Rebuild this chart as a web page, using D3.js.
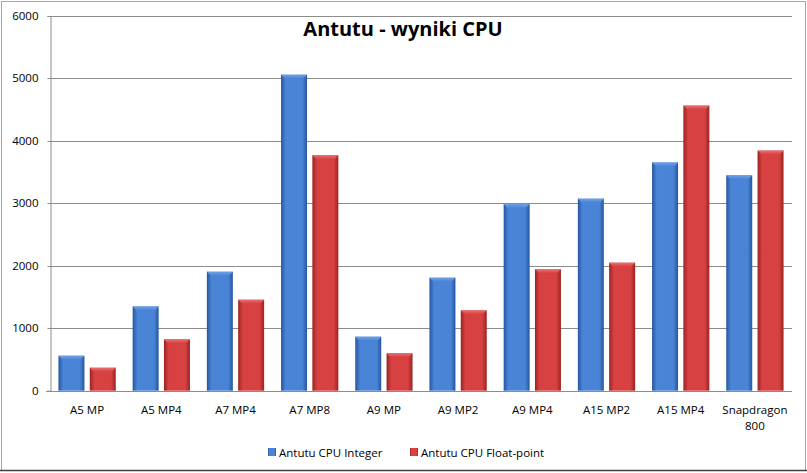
<!DOCTYPE html>
<html>
<head>
	<title>Antutu - wyniki CPU</title>
	<script src="https://d3js.org/d3.v7.min.js"></script>
	<style>
	body { margin: 0; background: #fff; }
	text { font-family: "Open Sans", sans-serif; fill: #000; }
	</style>
</head>
<body>
<script type="text/javascript">

// data
const categories = ["A5 MP", "A5 MP4", "A7 MP4", "A7 MP8", "A9 MP", "A9 MP2", "A9 MP4", "A15 MP2", "A15 MP4", "Snapdragon 800"]
const integerValues = [560, 1350, 1905, 5060, 865, 1810, 2990, 3075, 3655, 3450]
const floatValues = [368, 823, 1457, 3770, 600, 1287, 1944, 2050, 4565, 3845]
const seriesNames = ["Antutu CPU Integer", "Antutu CPU Float-point"]
const yTicks = [0, 1000, 2000, 3000, 4000, 5000, 6000]

const width = 807
const height = 473

const svg = d3.select("body").append("svg")
		.attr("width", width)
		.attr("height", height)

// outer frame
svg.append("rect")
	.attr("x", 1.5).attr("y", 1.5)
	.attr("width", width - 3).attr("height", height - 4)
	.attr("fill", "#fff")
	.attr("stroke", "#a6a6a6")
svg.append("line")
	.attr("x1", 0).attr("x2", width)
	.attr("y1", 470.5).attr("y2", 470.5)
	.attr("stroke", "#404040").attr("stroke-width", 1.5)

// gradients for the rounded bar look
const defs = svg.append("defs")
const palette = [
	{ dark: "#2556a0", mid: "#4a84d6", light: "#6fa2e6" },
	{ dark: "#9c2222", mid: "#d74141", light: "#e87070" }
]
palette.forEach(function(p, i) {
	const g = defs.append("linearGradient").attr("id", "bar" + i)
		.attr("x1", 0).attr("x2", 1).attr("y1", 0).attr("y2", 0)
	g.append("stop").attr("offset", "0%").attr("stop-color", p.dark)
	g.append("stop").attr("offset", "18%").attr("stop-color", p.mid)
	g.append("stop").attr("offset", "50%").attr("stop-color", p.mid)
	g.append("stop").attr("offset", "82%").attr("stop-color", p.mid)
	g.append("stop").attr("offset", "100%").attr("stop-color", p.dark)
	const c = defs.append("linearGradient").attr("id", "cap" + i)
		.attr("x1", 0).attr("x2", 0).attr("y1", 0).attr("y2", 1)
	c.append("stop").attr("offset", "0%").attr("stop-color", p.light)
	c.append("stop").attr("offset", "100%").attr("stop-color", p.mid)
})

// scales
const x0 = d3.scaleBand()
	.domain(categories)
	.range([50, 792])
const x1 = d3.scaleBand()
	.domain([0, 1])
	.range([0, x0.bandwidth()])
	.paddingInner(0.17)
	.paddingOuter(0.27)
const y = d3.scaleLinear()
	.domain([0, 6000])
	.range([390.7, 16])

// grid lines
svg.append("g")
	.selectAll("line")
	.data(yTicks)
	.enter()
	.append("line")
	.attr("x1", 50).attr("x2", 792)
	.attr("y1", d => Math.round(y(d)) + 0.5)
	.attr("y2", d => Math.round(y(d)) + 0.5)
	.attr("stroke", "#8c8c8c")

// y axis
const yAxis = svg.append("g")
	.attr("transform", "translate(50.5,0)")
	.call(d3.axisLeft(y).tickValues(yTicks).tickSize(3).tickPadding(9).tickFormat(d3.format("d")))
yAxis.select(".domain").attr("stroke", "#8c8c8c")
yAxis.selectAll(".tick line").attr("stroke", "#8c8c8c")
yAxis.selectAll(".tick")
	.attr("transform", d => "translate(0," + (Math.round(y(d)) + 0.5) + ")")
yAxis.selectAll("text")
	.attr("font-size", 11.5)
	.attr("font-family", "Open Sans, sans-serif")
	.attr("fill", "#000")

// bars
const rows = categories.map(function(c, i) {
	return { cat: c, values: [integerValues[i], floatValues[i]] }
})

const groups = svg.append("g")
	.selectAll("g")
	.data(rows)
	.enter()
	.append("g")
	.attr("transform", d => "translate(" + x0(d.cat) + ",0)")

groups.selectAll("rect.bar")
	.data(d => d.values.map((v, s) => ({ v: v, s: s })))
	.enter()
	.append("rect")
	.attr("class", "bar")
	.attr("x", d => x1(d.s))
	.attr("y", d => y(d.v))
	.attr("width", x1.bandwidth())
	.attr("height", d => y(0) - y(d.v))
	.attr("fill", d => "url(#bar" + d.s + ")")

// bevelled top of each bar
groups.selectAll("path.cap")
	.data(d => d.values.map((v, s) => ({ v: v, s: s })))
	.enter()
	.append("path")
	.attr("class", "cap")
	.attr("d", function(d) {
		const l = x1(d.s), r = l + x1.bandwidth(), t = y(d.v)
		return "M" + l + "," + t + "L" + r + "," + t + "L" + (r - 4) + "," + (t + 4) + "L" + (l + 4) + "," + (t + 4) + "Z"
	})
	.attr("fill", d => "url(#cap" + d.s + ")")

// x axis line
svg.append("line")
	.attr("x1", 46).attr("x2", 792)
	.attr("y1", Math.round(y(0)) + 0.5).attr("y2", Math.round(y(0)) + 0.5)
	.attr("stroke", "#8c8c8c")

// category labels, wrapped like the original
categories.forEach(function(c) {
	const words = c.split(" ")
	const lines = c.length > 10 ? [words[0], words.slice(1).join(" ")] : [c]
	const t = svg.append("text")
		.attr("x", x0(c) + x0.bandwidth() / 2)
		.attr("y", 414)
		.attr("text-anchor", "middle")
		.attr("font-size", 11.5)
	lines.forEach(function(l, k) {
		t.append("tspan")
			.attr("x", x0(c) + x0.bandwidth() / 2)
			.attr("dy", k == 0 ? 0 : 15.5)
			.text(l)
	})
})

// title
svg.append("text")
	.attr("x", 403)
	.attr("y", 36)
	.attr("text-anchor", "middle")
	.attr("font-size", 20)
	.attr("font-weight", "bold")
	.text("Antutu - wyniki CPU")

// legend
const legendX = [268, 410]
seriesNames.forEach(function(n, i) {
	svg.append("rect")
		.attr("x", legendX[i]).attr("y", 448)
		.attr("width", 8).attr("height", 8)
		.attr("fill", "url(#bar" + i + ")")
	svg.append("text")
		.attr("x", legendX[i] + 11)
		.attr("y", 457)
		.attr("font-size", 11.5)
		.text(n)
})

</script>
</body>
</html>
